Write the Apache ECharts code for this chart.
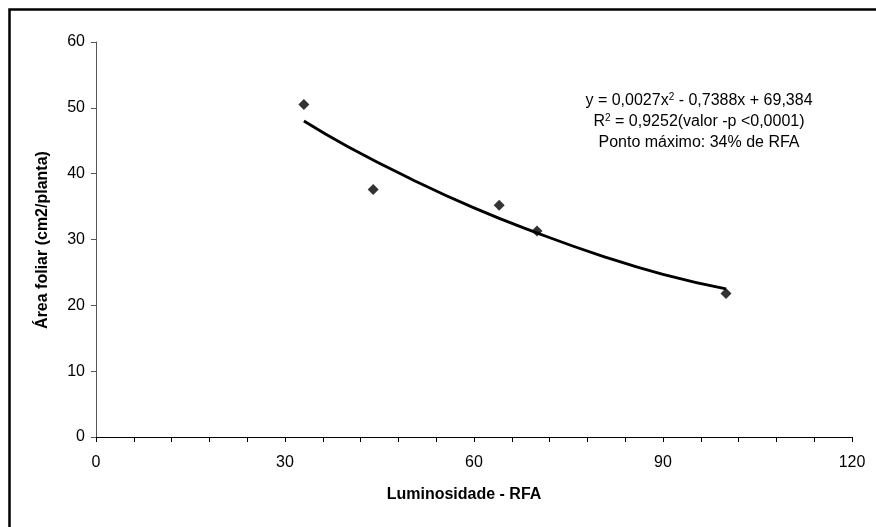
<!DOCTYPE html>
<html>
<head>
<meta charset="utf-8">
<script src="https://cdn.jsdelivr.net/npm/echarts@6/dist/echarts.min.js"></script>
<style>html,body{margin:0;padding:0;background:#fff}#c{width:876px;height:527px}</style>
</head>
<body>
<div id="c"></div>
<script>
// Observed points
const obsX = [33, 44, 64, 70, 100];
const obsY = [50.5, 37.6, 35.2, 31.3, 21.8];
// Trend line
const trendX = [33, 40, 50, 60, 70, 80, 90, 100];
const trendY = [48.0, 44.1, 39.2, 34.8, 31.0, 27.6, 24.7, 22.5];
const xTickLabels = [0, 30, 60, 90, 120];
const yTicks = [0, 10, 20, 30, 40, 50, 60];
const xTitle = 'Luminosidade - RFA';
const yTitle = 'Área foliar (cm2/planta)';
const eqLines = ['y = 0,0027x{s|2} - 0,7388x + 69,384', 'R{s|2} = 0,9252(valor -p <0,0001)', 'Ponto máximo: 34% de RFA'];

const font = '"Liberation Sans", Arial, sans-serif';
const chart = echarts.init(document.getElementById('c'), null, {renderer: 'canvas'});
chart.setOption({
  animation: false,
  backgroundColor: '#fff',
  grid: {left: 96, right: 24, top: 42, bottom: 90},
  xAxis: {
    type: 'value', min: 0, max: 120, interval: 6,
    axisLine: {lineStyle: {color: '#000', width: 1}},
    axisTick: {show: true, inside: false, length: 5, lineStyle: {color: '#000'}},
    axisLabel: {fontFamily: font, fontSize: 16, color: '#000', margin: 18,
      formatter: v => xTickLabels.indexOf(v) >= 0 ? String(v) : ''},
    splitLine: {show: false}
  },
  yAxis: {
    type: 'value', min: 0, max: 60, interval: 10,
    axisLine: {show: true, lineStyle: {color: '#555', width: 1}},
    axisTick: {show: true, inside: false, length: 5, lineStyle: {color: '#555'}},
    axisLabel: {fontFamily: font, fontSize: 16, color: '#000', margin: 11,
      formatter: v => yTicks.indexOf(v) >= 0 ? String(v) : ''},
    splitLine: {show: false}
  },
  series: [
    {
      type: 'line', data: trendX.map((x, i) => [x, trendY[i]]),
      smooth: true, showSymbol: false,
      lineStyle: {color: '#000', width: 2.8}, z: 2
    },
    {
      type: 'scatter', data: obsX.map((x, i) => [x, obsY[i]]),
      symbol: 'diamond', symbolSize: 11,
      itemStyle: {color: '#000'}, z: 3
    }
  ],
  graphic: [
    {type: 'rect', left: 7, top: 7, shape: {width: 900, height: 560},
     style: {fill: 'none', stroke: '#000', lineWidth: 2.5}, silent: true},
    {type: 'text', x: 464, y: 495,
     style: {text: xTitle, align: 'center', verticalAlign: 'middle',
       fontFamily: font, fontSize: 16, fontWeight: 'bold', fill: '#000'}},
    {type: 'text', x: 43, y: 240, rotation: Math.PI / 2,
     style: {text: yTitle, align: 'center', verticalAlign: 'middle',
       fontFamily: font, fontSize: 16, fontWeight: 'bold', fill: '#000'}},
    {type: 'text', x: 699, y: 122,
     style: {text: eqLines.join('\n'), align: 'center', verticalAlign: 'middle',
       fontFamily: font, fontSize: 16, fill: '#000', lineHeight: 21,
       rich: {s: {fontSize: 10, fontFamily: font, padding: [0, 0, 8, 0]}}}}
  ]
});
</script>
</body>
</html>
